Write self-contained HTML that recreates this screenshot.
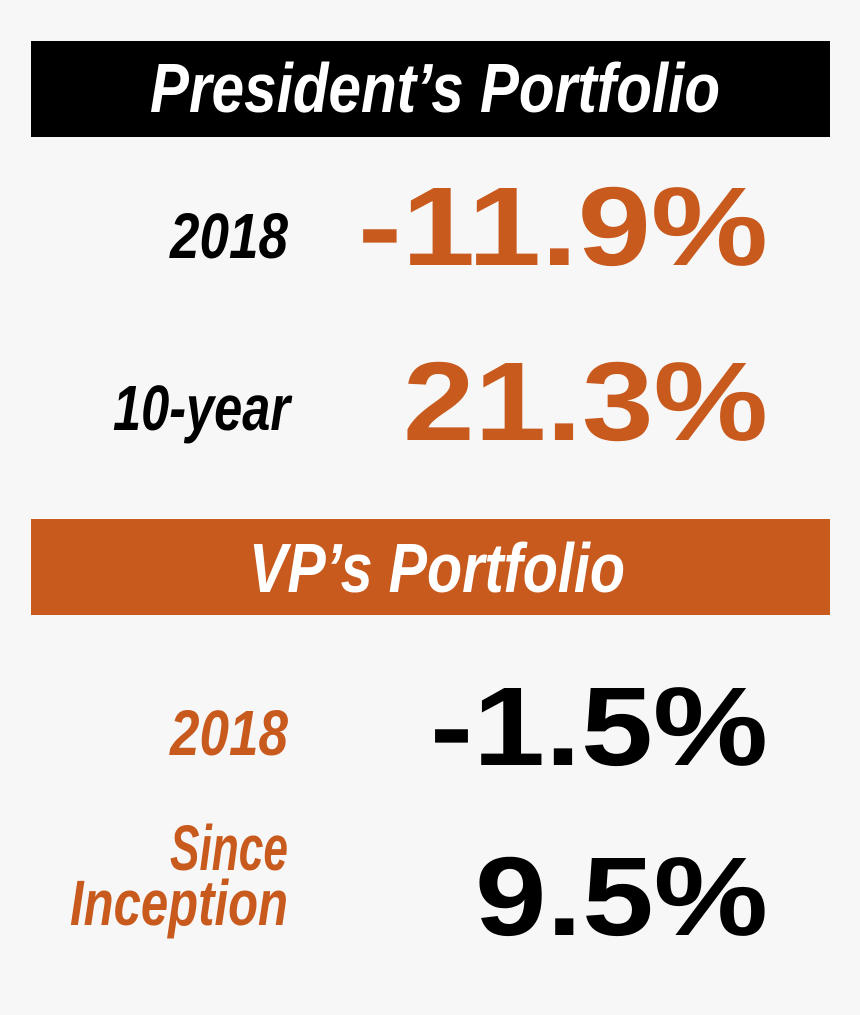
<!DOCTYPE html>
<html><head><meta charset="utf-8"><style>
html,body{margin:0;padding:0;background:#f7f7f7;}
svg{display:block;}
text{font-family:"Liberation Sans Narrow","Liberation Sans",sans-serif;font-weight:bold;}
.lbl{font-style:italic;}
.num{font-family:"Liberation Sans",sans-serif;}
</style></head><body>
<svg width="860" height="1015" viewBox="0 0 860 1015">
<rect x="0" y="0" width="860" height="1015" fill="#f7f7f7"/>
<rect x="31" y="41" width="799" height="96" fill="#000"/>
<text class="lbl" x="435" y="112" text-anchor="middle" font-size="70" fill="#fff" textLength="570" lengthAdjust="spacingAndGlyphs">President’s Portfolio</text>
<text class="lbl" x="288" y="258" text-anchor="end" font-size="64" fill="#000" textLength="118" lengthAdjust="spacingAndGlyphs">2018</text>
<text class="num" x="768" y="265" text-anchor="end" font-size="112" fill="#c85a1e" textLength="410" lengthAdjust="spacingAndGlyphs">-11.9%</text>
<text class="lbl" x="290" y="430" text-anchor="end" font-size="64" fill="#000" textLength="177" lengthAdjust="spacingAndGlyphs">10-year</text>
<text class="num" x="768" y="440" text-anchor="end" font-size="112" fill="#c85a1e" textLength="365" lengthAdjust="spacingAndGlyphs">21.3%</text>
<rect x="31" y="519" width="799" height="96" fill="#c85a1e"/>
<text class="lbl" x="437" y="592" text-anchor="middle" font-size="70" fill="#fff" textLength="376" lengthAdjust="spacingAndGlyphs">VP’s Portfolio</text>
<text class="lbl" x="288" y="755" text-anchor="end" font-size="64" fill="#c85a1e" textLength="118" lengthAdjust="spacingAndGlyphs">2018</text>
<text class="num" x="768" y="765" text-anchor="end" font-size="112" fill="#000" textLength="338" lengthAdjust="spacingAndGlyphs">-1.5%</text>
<text class="lbl" x="288" y="870" text-anchor="end" font-size="64" fill="#c85a1e" textLength="118" lengthAdjust="spacingAndGlyphs">Since</text>
<text class="lbl" x="288" y="925" text-anchor="end" font-size="64" fill="#c85a1e" textLength="218" lengthAdjust="spacingAndGlyphs">Inception</text>
<text class="num" x="768" y="935" text-anchor="end" font-size="112" fill="#000" textLength="293" lengthAdjust="spacingAndGlyphs">9.5%</text>
</svg>
</body></html>
